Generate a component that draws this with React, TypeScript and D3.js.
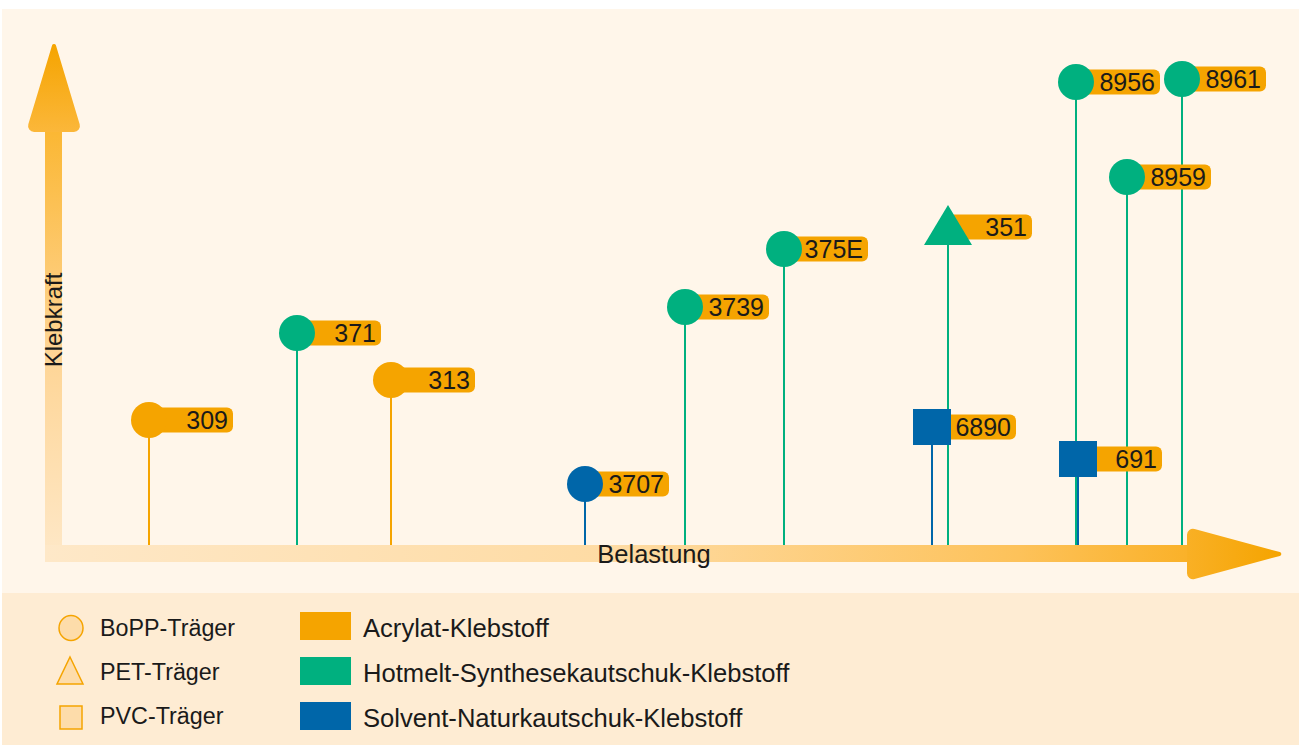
import * as d3 from 'd3';

// Produkte (Reihenfolge wie im Bild, von links nach rechts)
const products = ['309', '371', '313', '3707', '3739', '375E', '351', '6890', '691', '8956', '8959', '8961'];
// Belastung (relative Einheiten)
const belastung = [0.95, 2.43, 3.37, 5.31, 6.31, 7.3, 8.94, 8.78, 10.24, 10.22, 10.73, 11.28];
// Klebkraft (relative Einheiten)
const klebkraft = [2.5, 4.24, 3.3, 1.22, 4.76, 5.92, 6.36, 2.36, 1.72, 9.26, 7.36, 9.32];
// Träger -> Form
const traeger = ['BoPP', 'BoPP', 'BoPP', 'BoPP', 'BoPP', 'BoPP', 'PET', 'PVC', 'PVC', 'BoPP', 'BoPP', 'BoPP'];
// Klebstoff -> Farbe
const klebstoff = ['Acrylat', 'Hotmelt', 'Acrylat', 'Solvent', 'Hotmelt', 'Hotmelt', 'Hotmelt', 'Solvent', 'Solvent', 'Hotmelt', 'Hotmelt', 'Hotmelt'];

const traegerLegend = ['BoPP-Träger', 'PET-Träger', 'PVC-Träger'];
const klebstoffLegend = ['Acrylat-Klebstoff', 'Hotmelt-Synthesekautschuk-Klebstoff', 'Solvent-Naturkautschuk-Klebstoff'];

const ORANGE = '#f5a400';
const GREEN = '#00b07f';
const BLUE = '#0066a9';
const colorOf: Record<string, string> = { Acrylat: ORANGE, Hotmelt: GREEN, Solvent: BLUE };

const FONT = '"Liberation Sans", Arial, Helvetica, sans-serif';
const W = 1299;
const H = 745;

// abgerundetes Polygon, Radius je Ecke
function roundedPoly(pts: [number, number][], radii: number[]) {
  const p = d3.path();
  const n = pts.length;
  const a = pts[n - 1], b = pts[0];
  p.moveTo((a[0] + b[0]) / 2, (a[1] + b[1]) / 2);
  for (let i = 0; i < n; i++) {
    const cur = pts[i];
    const next = pts[(i + 1) % n];
    p.arcTo(cur[0], cur[1], next[0], next[1], radii[i]);
  }
  p.closePath();
  return p.toString();
}

export default function App() {
  const x = d3.scaleLinear().domain([0, 12]).range([54, 1254]);
  const y = d3.scaleLinear().domain([0, 10]).range([545, 45]);
  const axisY = y(0);

  const items = products.map((name, i) => ({
    name,
    cx: x(belastung[i]),
    cy: y(klebkraft[i]),
    shape: traeger[i],
    color: colorOf[klebstoff[i]],
  }));

  const boxW = 84;
  const boxH = 25;

  return (
    <svg width={W} height={H} style={{ position: 'absolute', left: 0, top: 0 }} fontFamily={FONT}>
      <defs>
        <linearGradient id="gy" x1="0" y1="0" x2="0" y2="1">
          <stop offset="0" stopColor="#fbb733" />
          <stop offset="0.5" stopColor="#fed493" />
          <stop offset="1" stopColor="#fee8c8" />
        </linearGradient>
        <linearGradient id="gyh" x1="0" y1="0" x2="0" y2="1">
          <stop offset="0" stopColor="#f5a400" />
          <stop offset="1" stopColor="#fbb73a" />
        </linearGradient>
        <linearGradient id="gx" x1="0" y1="0" x2="1" y2="0">
          <stop offset="0" stopColor="#fee8c8" />
          <stop offset="0.5" stopColor="#fedba3" />
          <stop offset="0.85" stopColor="#fdc25a" />
          <stop offset="1" stopColor="#fab128" />
        </linearGradient>
        <linearGradient id="gxh" x1="0" y1="0" x2="1" y2="0">
          <stop offset="0" stopColor="#f9b025" />
          <stop offset="1" stopColor="#f5a400" />
        </linearGradient>
      </defs>
      <rect x={0} y={0} width={W} height={H} fill="#ffffff" />
      <rect x={2} y={9} width={W - 2} height={584} fill="#fff6ea" />
      <rect x={2} y={593} width={W - 2} height={H - 593} fill="#feecd3" />

      {/* Achsen */}
      <rect x={45} y={130} width={17} height={432} fill="url(#gy)" />
      <path d={roundedPoly([[54, 39], [82, 132], [26, 132]], [2, 6, 6])} fill="url(#gyh)" />
      <rect x={45} y={545} width={1146} height={17} fill="url(#gx)" />
      <path d={roundedPoly([[1187, 527], [1287, 554], [1187, 581]], [6, 2, 6])} fill="url(#gxh)" />

      <text transform="translate(62,320) rotate(-90)" textAnchor="middle" fontSize={24} fill="#1a1a1a">Klebkraft</text>
      <text x={654} y={563} textAnchor="middle" fontSize={25.5} fill="#1a1a1a">Belastung</text>

      {/* Stiele */}
      {items.map(d => (
        <line key={'s' + d.name} x1={d.cx} x2={d.cx} y1={d.cy} y2={axisY} stroke={d.color} strokeWidth={2} />
      ))}

      {/* Beschriftungsboxen */}
      {items.map(d => (
        <g key={'b' + d.name}>
          <rect x={d.cx} y={d.cy - boxH / 2} width={boxW} height={boxH} rx={6} fill={ORANGE} />
          <text x={d.cx + boxW - 5} y={d.cy + 9} textAnchor="end" fontSize={25} fill="#1a1a1a">{d.name}</text>
        </g>
      ))}

      {/* Marker */}
      {items.map(d => {
        if (d.shape === 'BoPP') return <circle key={'m' + d.name} cx={d.cx} cy={d.cy} r={18} fill={d.color} />;
        if (d.shape === 'PVC') return <rect key={'m' + d.name} x={d.cx - 19} y={d.cy - 18} width={38} height={36} fill={d.color} />;
        return (
          <path key={'m' + d.name}
            d={d3.line()([[d.cx, d.cy - 22], [d.cx + 24, d.cy + 18], [d.cx - 24, d.cy + 18]]) + 'Z'}
            fill={d.color} />
        );
      })}

      {/* Legende */}
      {traegerLegend.map((t, i) => {
        const cy = 628 + i * 44;
        return (
          <g key={t}>
            {i === 0 && <ellipse cx={71} cy={cy} rx={12} ry={12.5} fill="#fddcaa" stroke={ORANGE} strokeWidth={1.5} />}
            {i === 1 && <path d={`M70,${cy - 15}L83,${cy + 12}L57,${cy + 12}Z`} fill="#fddcaa" stroke={ORANGE} strokeWidth={1.5} />}
            {i === 2 && <rect x={60} y={cy - 10} width={22} height={23} fill="#fddcaa" stroke={ORANGE} strokeWidth={1.5} />}
            <text x={100} y={cy + 8} fontSize={23.3} fill="#1a1a1a">{t}</text>
          </g>
        );
      })}
      {klebstoffLegend.map((t, i) => {
        const cy = 626 + i * 45;
        const c = [ORANGE, GREEN, BLUE][i];
        return (
          <g key={t}>
            <rect x={300} y={cy - 14} width={51} height={28} fill={c} />
            <text x={363} y={cy + 11} fontSize={25.6} fill="#1a1a1a">{t}</text>
          </g>
        );
      })}
    </svg>
  );
}
